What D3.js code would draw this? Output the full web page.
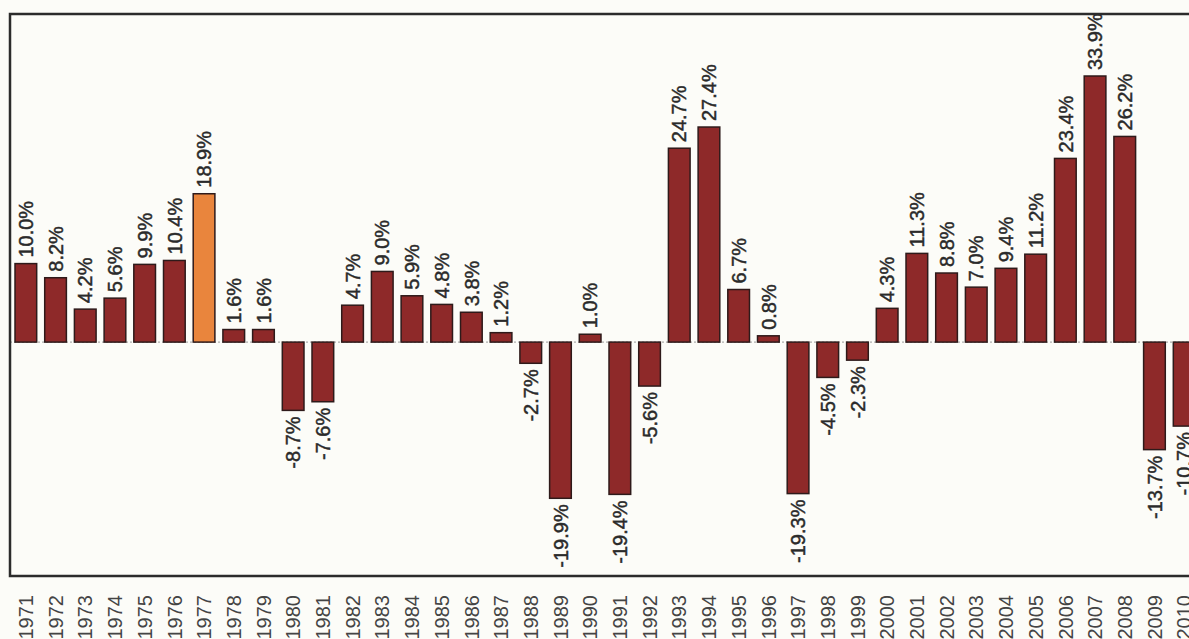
<!DOCTYPE html>
<html lang="en">

<head>
    <meta charset="UTF-8">
    <script src="https://d3js.org/d3.v7.min.js"></script>
    <title>Annual returns</title>
    <style>
        body {
            margin: 0;
            background: #fcfcf8;
            overflow: hidden;
        }

        text {
            font-family: "Liberation Sans", Arial, sans-serif;
            fill: #2a2a2a;
        }
    </style>
</head>

<body>
    <div class="fig"></div>

    <script>
        // yearly values
        const years = d3.range(1971, 2011).map(String);
        const returns = [10.0, 8.2, 4.2, 5.6, 9.9, 10.4, 18.9, 1.6, 1.6, -8.7,
            -7.6, 4.7, 9.0, 5.9, 4.8, 3.8, 1.2, -2.7, -19.9, 1.0,
            -19.4, -5.6, 24.7, 27.4, 6.7, 0.8, -19.3, -4.5, -2.3, 4.3,
            11.3, 8.8, 7.0, 9.4, 11.2, 23.4, 33.9, 26.2, -13.7, -10.7];
        const highlightYear = "1977";

        const width = 1189;
        const height = 639;

        // plot frame (runs off the right edge, like the scan)
        const frame = { left: 10, top: 14, right: 1202, bottom: 576 };

        const svg = d3.select(".fig").append("svg")
            .attr("width", width)
            .attr("height", height);

        const x = d3.scaleBand()
            .domain(years)
            .range([frame.left + 1, 1199])
            .paddingInner(0.27)
            .paddingOuter(0.135);

        const y = d3.scaleLinear()
            .domain([-29.8, 41.8])
            .range([frame.bottom, frame.top]);

        const data = years.map((yr, i) => ({ year: yr, value: returns[i] }));

        // zero line
        svg.append("line")
            .attr("x1", frame.left)
            .attr("x2", frame.right)
            .attr("y1", y(0))
            .attr("y2", y(0))
            .attr("stroke", "#9a9a9a")
            .attr("stroke-width", 1)
            .attr("stroke-dasharray", "2,2");

        // bars
        svg.selectAll("rect.bar")
            .data(data)
            .enter()
            .append("rect")
            .attr("class", "bar")
            .attr("x", d => x(d.year))
            .attr("width", x.bandwidth())
            .attr("y", d => y(Math.max(0, d.value)))
            .attr("height", d => Math.abs(y(d.value) - y(0)))
            .attr("fill", d => d.year == highlightYear ? "#e9853d" : "#8e2929")
            .attr("stroke", "#2e1a1a")
            .attr("stroke-width", 1.5);

        // value labels, rotated
        svg.selectAll("text.val")
            .data(data)
            .enter()
            .append("text")
            .attr("class", "val")
            .attr("transform", d => {
                const cx = x(d.year) + x.bandwidth() / 2;
                const yy = d.value >= 0 ? y(d.value) - 6 : y(d.value) + 6;
                return `translate(${cx},${yy}) rotate(-90)`;
            })
            .attr("dy", "0.36em")
            .attr("text-anchor", d => d.value >= 0 ? "start" : "end")
            .style("font-size", "20px")
            .style("stroke", "#2a2a2a")
            .style("stroke-width", 0.45)
            .text(d => d.value.toFixed(1) + "%");

        // frame
        svg.append("rect")
            .attr("x", frame.left)
            .attr("y", frame.top)
            .attr("width", frame.right - frame.left)
            .attr("height", frame.bottom - frame.top)
            .attr("fill", "none")
            .attr("stroke", "#2b2b2b")
            .attr("stroke-width", 2.5);

        // year labels under the frame
        svg.selectAll("text.yr")
            .data(years)
            .enter()
            .append("text")
            .attr("class", "yr")
            .attr("transform", d => `translate(${x(d) + x.bandwidth() / 2},595) rotate(-90)`)
            .attr("dy", "0.36em")
            .attr("text-anchor", "end")
            .style("font-size", "20px")
            .style("fill", "#444")
            .text(d => d);
    </script>
</body>

</html>
